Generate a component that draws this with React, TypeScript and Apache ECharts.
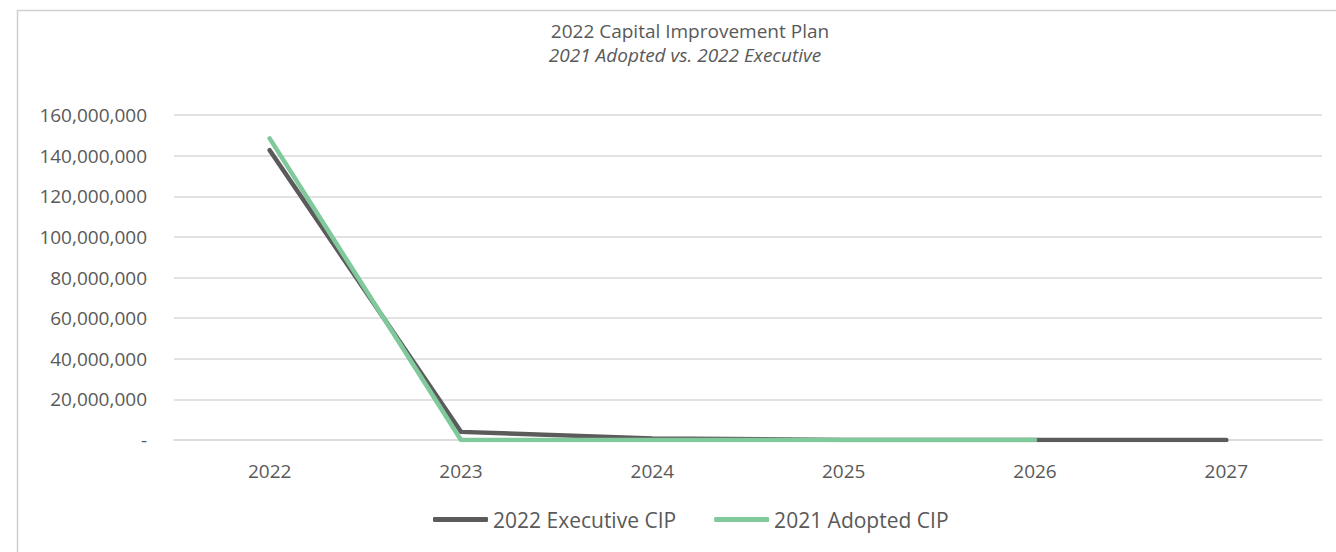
import React, { useEffect, useRef } from "react";
import * as echarts from "echarts";

const years = ["2022", "2023", "2024", "2025", "2026", "2027"];
const executiveCip = [142700000, 4000000, 800000, 0, 0, 0];
const adoptedCip = [148500000, 0, 0, 0, 0, null];
const seriesNames = ["2022 Executive CIP", "2021 Adopted CIP"];
const titleText = "2022 Capital Improvement Plan";
const subtitleText = "2021 Adopted vs. 2022 Executive";

const FONT = "'Open Sans', 'Noto Sans', sans-serif";
const TEXT = "#595959";

export default function App() {
  const ref = useRef<HTMLDivElement>(null);
  useEffect(() => {
    if (!ref.current) return;
    const chart = echarts.init(ref.current, undefined, { renderer: "svg" });
    chart.setOption({
      animation: false,
      backgroundColor: "#ffffff",
      textStyle: { fontFamily: FONT, color: TEXT },
      title: [
        {
          text: titleText,
          left: 685,
          top: 16,
          textAlign: "center",
          textStyle: { fontFamily: FONT, fontSize: 19, fontWeight: "normal", color: TEXT },
        },
        {
          text: subtitleText,
          left: 680,
          top: 40,
          textAlign: "center",
          textStyle: { fontFamily: FONT, fontSize: 19, fontWeight: "normal", fontStyle: "italic", color: TEXT },
        },
      ],
      graphic: [
        {
          type: "rect",
          shape: { x: 17.5, y: 10.5, width: 1400, height: 700 },
          style: { fill: "none", stroke: "#cfcfcf", lineWidth: 1.5 },
          silent: true,
          z: -1,
        },
      ],
      legend: {
        data: seriesNames,
        left: 428,
        top: 504,
        icon: "roundRect",
        itemWidth: 55,
        itemHeight: 5,
        itemGap: 38,
        textStyle: { fontFamily: FONT, fontSize: 21, color: TEXT },
      },
      grid: { left: 174, right: 14, top: 115, bottom: 112, containLabel: false },
      xAxis: {
        type: "category",
        data: years,
        boundaryGap: true,
        axisLine: { show: true, lineStyle: { color: "#d9d9d9", width: 1.5 } },
        axisTick: { show: false },
        axisLabel: { fontFamily: FONT, fontSize: 19, color: TEXT, margin: 21 },
      },
      yAxis: {
        type: "value",
        min: 0,
        max: 160000000,
        interval: 20000000,
        axisLine: { show: false },
        axisTick: { show: false },
        splitLine: { lineStyle: { color: "#d9d9d9", width: 1.5 } },
        axisLabel: {
          fontFamily: FONT,
          fontSize: 19,
          color: TEXT,
          margin: 27,
          formatter: (v: number) => (v === 0 ? "-" : v.toLocaleString("en-US")),
        },
      },
      series: [
        {
          name: seriesNames[0],
          type: "line",
          data: executiveCip,
          symbol: "none",
          color: "#5b5b5b",
          lineStyle: { width: 4.5, color: "#5b5b5b", cap: "round", join: "round" },
          z: 2,
        },
        {
          name: seriesNames[1],
          type: "line",
          data: adoptedCip,
          symbol: "none",
          color: "#80c99b",
          lineStyle: { width: 4.5, color: "#80c99b", cap: "round", join: "round" },
          z: 3,
        },
      ],
    });
    return () => chart.dispose();
  }, []);
  return (
    <div
      ref={ref}
      style={{ position: "fixed", left: 0, top: 0, width: 1336, height: 552 }}
    />
  );
}
